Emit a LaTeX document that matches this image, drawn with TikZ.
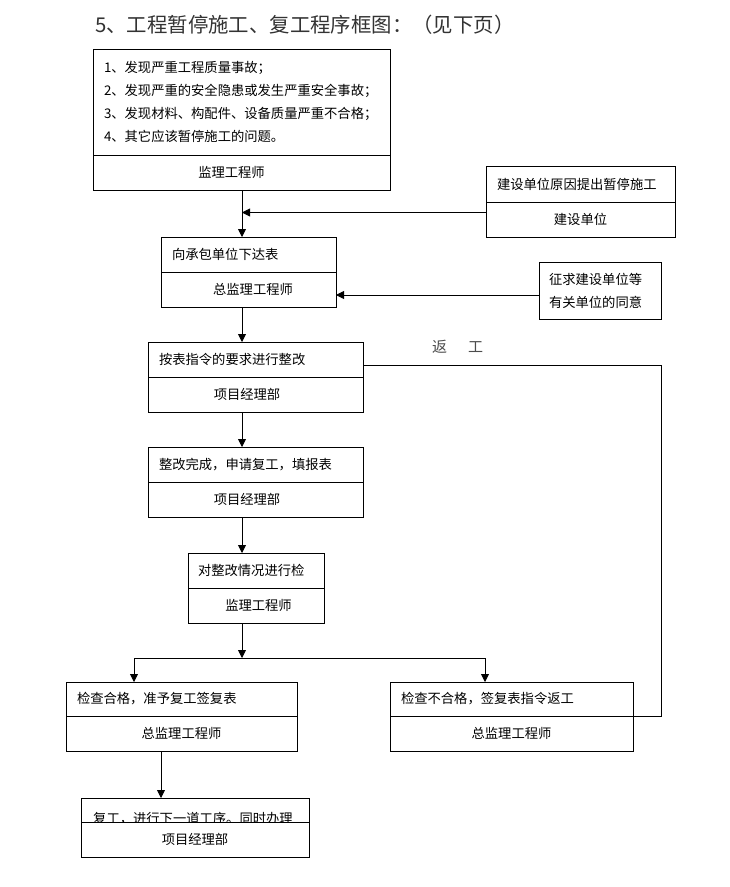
\documentclass[tikz,border=0pt]{standalone}
\usepackage{fontspec}
\newfontfamily\cjk{Noto Sans CJK SC}
\usetikzlibrary{arrows.meta}
\tikzset{
  cell/.style={draw, line width=0.9pt, inner sep=0pt, outer sep=0pt, anchor=north west,
    font=\cjk\fontsize{13.3}{16}\selectfont},
  lcell/.style={cell, align=left, inner xsep=11pt},
  arr/.style={draw, line width=0.9pt, -{Triangle[length=8pt,width=8pt]}},
  ln/.style={draw, line width=0.9pt}
}
\begin{document}
\begin{tikzpicture}[x=1pt,y=-1pt]
\fill[white] (0,0) rectangle (730,887);
\useasboundingbox (0,0) rectangle (730,887);

% title
\node[anchor=west, inner sep=0pt, font=\cjk\fontsize{20.4}{24}\selectfont, text=black!80] (title) at (95,25)
  {5、工程暂停施工、复工程序框图：（见下页）};

% box 1
\node[lcell, minimum width=297pt, minimum height=106pt, text width=275pt,
  font=\cjk\fontsize{13.3}{23.2}\selectfont] (b1t) at (93,49)
  {1、发现严重工程质量事故；\\2、发现严重的安全隐患或发生严重安全事故；\\3、发现材料、构配件、设备质量严重不合格；\\4、其它应该暂停施工的问题。};
\node[cell, minimum width=297pt, minimum height=35pt] (b1b) at (93,155) {监理工程师\rule{20pt}{0pt}};

% box B
\node[lcell, minimum width=189pt, minimum height=36pt, text width=167pt] (bBt) at (486,166) {建设单位原因提出暂停施工};
\node[cell, minimum width=189pt, minimum height=35pt] (bBb) at (486,202) {建设单位};

% box 2
\node[lcell, minimum width=175pt, minimum height=35pt, text width=153pt] (b2t) at (161,237) {向承包单位下达表};
\node[cell, minimum width=175pt, minimum height=35pt] (b2b) at (161,272) {\rule{9pt}{0pt}总监理工程师};

% box C
\node[lcell, minimum width=122pt, minimum height=57pt, text width=102pt, inner xsep=10pt,
  font=\cjk\fontsize{13.3}{23}\selectfont] (bC) at (539,262) {征求建设单位等\\有关单位的同意};

% box 3
\node[lcell, minimum width=215pt, minimum height=35pt, text width=193pt] (b3t) at (148,342) {按表指令的要求进行整改};
\node[cell, minimum width=215pt, minimum height=35pt] (b3b) at (148,377) {项目经理部\rule{17pt}{0pt}};

% box 4
\node[lcell, minimum width=215pt, minimum height=35pt, text width=193pt] (b4t) at (148,447) {整改完成，申请复工，填报表};
\node[cell, minimum width=215pt, minimum height=35pt] (b4b) at (148,482) {项目经理部\rule{17pt}{0pt}};

% box 5
\node[lcell, minimum width=136pt, minimum height=35pt, text width=116pt, inner xsep=10pt] (b5t) at (188,553) {对整改情况进行检};
\node[cell, minimum width=136pt, minimum height=35pt] (b5b) at (188,588) {\rule{5pt}{0pt}监理工程师};

% box 6
\node[lcell, minimum width=231pt, minimum height=34pt, text width=209pt] (b6t) at (66,682) {检查合格，准予复工签复表};
\node[cell, minimum width=231pt, minimum height=35pt] (b6b) at (66,716) {总监理工程师};

% box 7
\node[lcell, minimum width=243pt, minimum height=34pt, text width=221pt] (b7t) at (390,682) {检查不合格，签复表指令返工};
\node[cell, minimum width=243pt, minimum height=35pt] (b7b) at (390,716) {总监理工程师};

% box 8
\node[cell, minimum width=228pt, minimum height=24pt] (b8t) at (81,798) {};
\begin{scope}
  \clip (81,798) rectangle (309,821.5);
  \node[anchor=west, inner sep=0pt, font=\cjk\fontsize{13.3}{16}\selectfont] (b8x) at (93,818.5)
    {复工，进行下一道工序。同时办理};
\end{scope}
\node[cell, minimum width=228pt, minimum height=35pt] (b8b) at (81,822) {项目经理部};

% return label
\node[inner sep=0pt, font=\cjk\fontsize{15}{18}\selectfont, text=black!70] (fg) at (457.5,347) {返\hspace{21pt}工};

% helper coordinates
\coordinate (ax) at (242,0);
\coordinate (ax2) at (161,0);
\coordinate (j1) at (242,212.5);
\coordinate (j2) at (0,295);
\coordinate (jL) at (134,658);
\coordinate (jR) at (485,658);
\coordinate (jM) at (242,658);
\coordinate (r1) at (661,365);
\coordinate (r2) at (661,716);

% connectors
\draw[arr] (ax |- b1b.south) -- (ax |- b2t.north);
\draw[arr] (bBb.west |- j1) -- (j1);
\draw[arr] (bC.west |- j2) -- (b2b.east |- j2);
\draw[arr] (ax |- b2b.south) -- (ax |- b3t.north);
\draw[arr] (ax |- b3b.south) -- (ax |- b4t.north);
\draw[arr] (ax |- b4b.south) -- (ax |- b5t.north);
\draw[arr] (ax |- b5b.south) -- (jM);
\draw[ln] (jL) -- (jR);
\draw[arr] (jL) -- (jL |- b6t.north);
\draw[arr] (jR) -- (jR |- b7t.north);
\draw[arr] (ax2 |- b6b.south) -- (ax2 |- b8t.north);
\draw[ln] (b3t.east |- r1) -- (r1) -- (r2) -- (b7t.south east);
\end{tikzpicture}
\end{document}
